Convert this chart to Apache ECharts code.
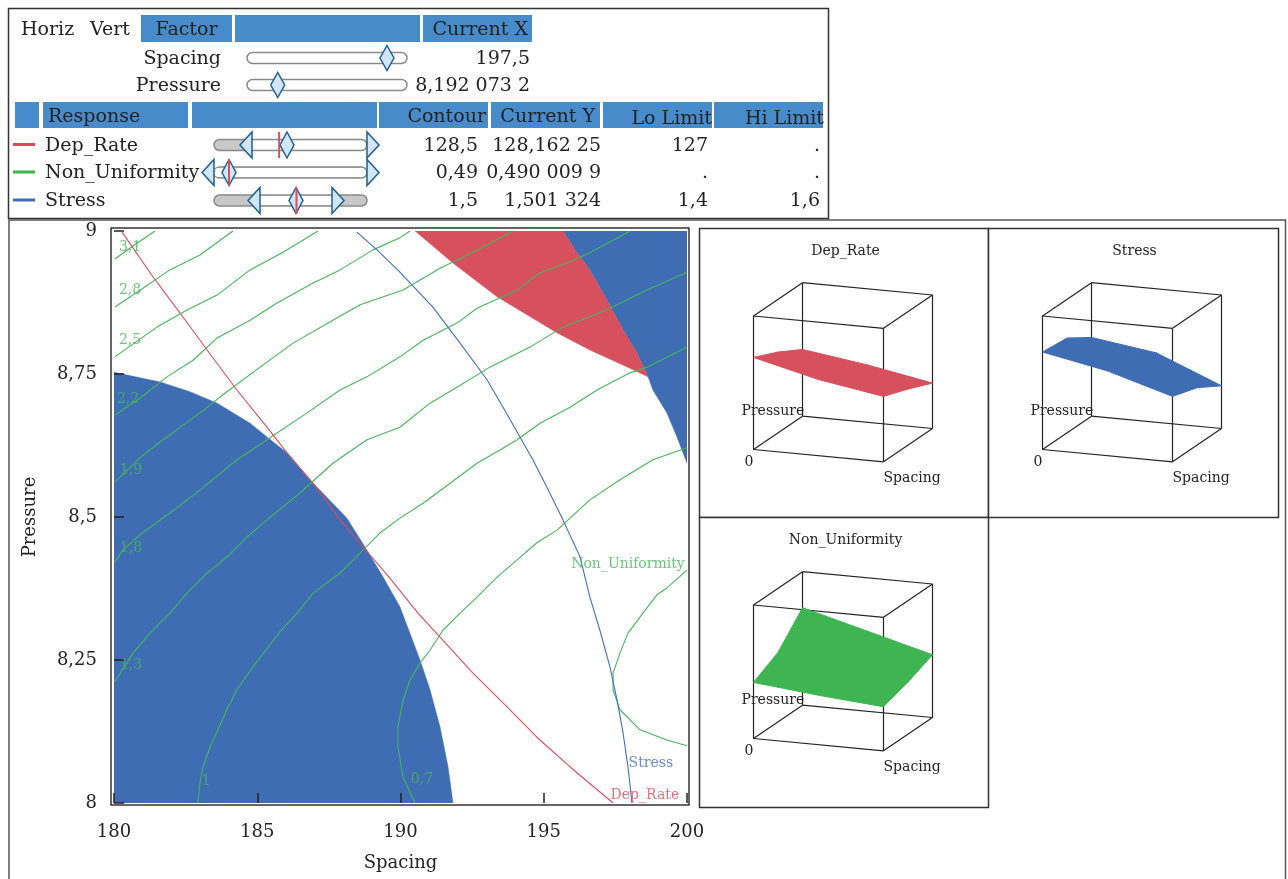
<!DOCTYPE html>
<html><head><meta charset="utf-8">
<script src="https://cdn.jsdelivr.net/npm/echarts@6.0.0/dist/echarts.min.js"></script>
<style>html,body{margin:0;padding:0;background:#fff}#chart{width:1288px;height:879px}</style>
</head><body><div id="chart"></div><script>
// ---------------- DATA ----------------
const factorNames = ['Spacing', 'Pressure'];
const factorCurrent = [197.5, 8.1920732];
const factorRange = [[180, 200], [8, 9]];

const responseNames = ['Dep_Rate', 'Non_Uniformity', 'Stress'];
const responseContour = [128.5, 0.49, 1.5];
const responseCurrentY = [128.16225, 0.4900099, 1.501324];
const responseLoLimit = [127, null, 1.4];
const responseHiLimit = [null, null, 1.6];
const responseSliderRange = [[125.371, 131.929], [0.44, 0.95], [1.2722, 1.6972]];

const xTickValues = [180, 185, 190, 195, 200];
const yTickValues = [8, 8.25, 8.5, 8.75, 9];

// shaded (out of limit) regions, [Spacing, Pressure]
const stressLowRegion = [[180,8],[180,8.753],[181.61,8.736],[182.65,8.719],[183.6,8.699],[184.75,8.664],[185.34,8.640],[186.04,8.612],[186.84,8.565],[188.13,8.498],[188.83,8.442],[189.39,8.395],[189.98,8.343],[190.68,8.250],[191.03,8.198],[191.38,8.133],[191.66,8.063],[191.83,8.0]];
const depRateLowRegion = [[190.51,9],[195.67,9],[196.16,8.962],[196.61,8.932],[197.21,8.879],[197.77,8.827],[198.25,8.787],[198.64,8.745],[198.01,8.760],[196.61,8.792],[195.46,8.822],[193.37,8.885],[191.83,8.944]];
const stressHighRegion = [[195.67,9],[200,9],[200,8.594],[199.65,8.64],[199.3,8.682],[198.81,8.722],[198.64,8.745],[198.25,8.787],[197.77,8.827],[197.21,8.879],[196.61,8.932],[196.16,8.962]];

// contour lines
const depRateContour = [[180.28,8.998],[181.36,8.920],[182.30,8.857],[183.25,8.792],[184.29,8.722],[185.34,8.657],[186.04,8.612],[186.95,8.559],[187.89,8.495],[188.69,8.448],[189.63,8.393],[190.61,8.332],[191.38,8.290],[192.53,8.227],[193.72,8.168],[194.76,8.115],[195.92,8.063],[197.42,8.0]];
const stressContour = [[188.48,8.998],[189.18,8.967],[189.98,8.928],[191.13,8.867],[192.08,8.804],[193.02,8.740],[193.58,8.692],[194.17,8.640],[194.62,8.600],[195.11,8.552],[195.67,8.495],[196.27,8.430],[196.61,8.360],[196.96,8.302],[197.31,8.238],[197.56,8.180],[197.77,8.122],[197.94,8.063],[198.08,8.0]];
const nuLine31 = [[180.03,8.951],[180.7,8.975],[181.43,9.0]];
const nuLine28 = [[180.03,8.867],[180.66,8.888],[181.95,8.932],[183.0,8.958],[184.15,9.0]];
const nuLine25 = [[180.03,8.780],[181.5,8.832],[182.55,8.862],[183.6,8.888],[184.75,8.932],[185.9,8.963],[187.12,9.0]];
const nuLine22 = [[180.03,8.678],[180.91,8.708],[181.85,8.745],[182.76,8.774],[183.6,8.813],[184.75,8.844],[185.69,8.874],[186.95,8.909],[187.89,8.932],[189.04,8.967],[189.98,8.988],[190.33,9.0]];
const nuLine19 = [[180.03,8.561],[181.01,8.608],[181.71,8.635],[183.0,8.682],[183.94,8.719],[185.1,8.762],[186.25,8.804],[187.64,8.844],[188.59,8.871],[190.09,8.897],[191.38,8.935],[192.53,8.963],[193.93,9.0]];
const nuLine18 = [[180.03,8.421],[180.31,8.442],[180.91,8.469],[181.95,8.507],[183.0,8.547],[184.29,8.600],[185.34,8.635],[186.74,8.682],[187.89,8.722],[188.83,8.745],[189.98,8.780],[190.79,8.809],[191.97,8.839],[192.67,8.865],[194.07,8.897],[194.87,8.927],[195.81,8.944],[196.61,8.962],[198.01,9.0]];
const nuLine13 = [[180.03,8.212],[180.66,8.262],[181.26,8.297],[181.95,8.332],[182.55,8.367],[183.25,8.402],[183.94,8.430],[184.64,8.465],[185.34,8.495],[186.49,8.542],[187.64,8.594],[188.83,8.635],[189.98,8.657],[191.03,8.699],[191.97,8.727],[193.12,8.762],[194.52,8.797],[195.67,8.832],[196.61,8.850],[197.31,8.865],[198.6,8.897],[200,8.928]];
const nuLine10 = [[182.93,8.0],[183.0,8.035],[183.11,8.063],[183.35,8.098],[183.94,8.163],[184.29,8.198],[184.85,8.238],[185.79,8.299],[186.39,8.332],[186.95,8.367],[187.89,8.402],[188.69,8.442],[189.28,8.472],[189.98,8.498],[190.79,8.524],[191.73,8.559],[192.67,8.594],[193.47,8.617],[194.07,8.635],[194.87,8.664],[195.92,8.692],[196.86,8.722],[198.01,8.752],[198.6,8.762],[200,8.797]];
const nuLine07 = [[190.51,8.0],[190.09,8.045],[189.91,8.098],[189.91,8.133],[190.09,8.180],[190.33,8.215],[190.68,8.245],[191.03,8.267],[191.48,8.302],[192.08,8.332],[192.67,8.360],[193.37,8.395],[194.07,8.425],[194.76,8.455],[195.46,8.477],[195.92,8.498],[196.61,8.530],[197.66,8.565],[198.81,8.600],[200,8.621]];
const nuLine049 = [[200,8.407],[199.3,8.376],[198.95,8.364],[198.46,8.332],[197.94,8.297],[197.66,8.262],[197.42,8.227],[197.42,8.198],[197.66,8.163],[198.36,8.128],[199.3,8.110],[200,8.100]];

const nuLabels = [['3,1',180.56,8.972],['2,8',180.56,8.897],['2,5',180.56,8.808],['2,2',180.49,8.705],['1,9',180.59,8.582],['1,8',180.59,8.446],['1,3',180.59,8.241],['1',183.21,8.038],['0,7',190.75,8.042],['Non_Uniformity',197.94,8.418]];
const depRateLabel = ['Dep_Rate', 198.53, 8.014];
const stressLabel = ['Stress', 198.74, 8.070];

// surface heights (fraction of cube height): rows Spacing low->high, cols Pressure low->high
const depRateSurface = [[0.69,0.605,0.50],[0.57,0.50,0.43],[0.49,0.42,0.34]];
const stressSurface = [[0.73,0.71,0.59],[0.635,0.60,0.52],[0.49,0.43,0.32]];
const nonUniformitySurface = [[0.42,0.52,0.73],[0.37,0.47,0.60],[0.33,0.39,0.47]];

// ---------------- STYLE ----------------
const FONT = '"DejaVu Serif", serif';
const BLUE_FILL = '#3F6DB4', RED_FILL = '#D6505E', GREEN_FILL = '#3EB552';
const GREEN_LINE = '#45B55A', RED_LINE = '#DC4B5A', BLUE_LINE = '#3E6FC2';
const HEAD = '#478BCA', TXT = '#222';

function fmt(v) {
  if (v == null) return '.';
  const s = String(v); const parts = s.split('.');
  if (!parts[1]) return parts[0];
  return parts[0] + ',' + parts[1].match(/.{1,3}/g).join(' ');
}

// ---------------- GRAPHIC (panels) ----------------
const G = [];
function rect(x, y, w, h, fill, stroke, lw, r) {
  G.push({type: 'rect', silent: true, shape: {x, y, width: w, height: h, r: r || 0},
    style: {fill: fill || 'none', stroke: stroke || 'none', lineWidth: lw || 0}});
}
function txt(x, y, t, size, align, color) {
  G.push({type: 'text', silent: true, x, y, style: {text: t, fontSize: size || 19, fontFamily: FONT,
    fill: color || TXT, align: align || 'left', verticalAlign: 'middle'}});
}
function poly(points, fill, stroke, lw) {
  G.push({type: 'polygon', silent: true, shape: {points}, style: {fill, stroke: stroke || 'none', lineWidth: lw || 0}});
}
function seg(x1, y1, x2, y2, stroke, lw) {
  G.push({type: 'line', silent: true, shape: {x1, y1, x2, y2}, style: {stroke, lineWidth: lw || 1}});
}

// outer frames
rect(8.5, 8.5, 820, 210, 'none', '#333', 1.5);
G.push({type: 'polyline', silent: true, shape: {points: [[9, 880], [9, 220], [1285.5, 220], [1285.5, 880]]}, style: {fill: 'none', stroke: '#555', lineWidth: 1.5}});

// header row 1
txt(21, 30, 'Horiz'); txt(90, 30, 'Vert');
rect(141, 15, 91, 27, HEAD); txt(186.5, 30, 'Factor', 19, 'center');
rect(235, 15, 185, 27, HEAD);
rect(423, 15, 109, 27, HEAD); txt(528, 30, 'Current X', 19, 'right');

// factor rows
const facY = [58, 85];
factorNames.forEach((n, i) => {
  const cy = facY[i];
  txt(221, cy + 1, n, 19, 'right');
  rect(247, cy - 5.5, 160, 11, '#fff', '#8a8a8a', 1.5, 5.5);
  const r = factorRange[i];
  const px = 247 + (factorCurrent[i] - r[0]) / (r[1] - r[0]) * 160;
  poly([[px, cy - 12.5], [px + 7, cy], [px, cy + 12.5], [px - 7, cy]], '#D3E6F6', '#1F5F94', 1.5);
  txt(530, cy + 1, fmt(factorCurrent[i]), 19, 'right');
});

// header row 2
rect(15, 102, 24, 26, HEAD);
rect(43, 102, 145, 26, HEAD); txt(48, 117, 'Response');
rect(192, 102, 185, 26, HEAD);
rect(379, 102, 109, 26, HEAD); txt(486, 117, 'Contour', 19, 'right');
rect(491, 102, 109, 26, HEAD); txt(595, 117, 'Current Y', 19, 'right');
rect(603, 102, 109, 26, HEAD); txt(712, 119, 'Lo Limit', 19, 'right');
rect(714, 102, 109, 26, HEAD); txt(824, 119, 'Hi Limit', 19, 'right');

// response rows
const resY = [145, 172.5, 200.5];
const legendColors = [RED_LINE, '#3DB54A', '#3F6DB4'];
const T0 = 214, TW = 153;
responseNames.forEach((n, i) => {
  const cy = resY[i];
  seg(13, cy - 0.5, 35, cy - 0.5, legendColors[i], 3);
  txt(45, cy + 1, n);
  const r = responseSliderRange[i];
  const toPx = v => T0 + (v - r[0]) / (r[1] - r[0]) * TW;
  const lo = responseLoLimit[i], hi = responseHiLimit[i];
  const loPx = lo == null ? T0 : toPx(lo);
  const hiPx = hi == null ? T0 + TW : toPx(hi);
  rect(T0, cy - 5.5, TW, 11, '#C8C8C8', '#8a8a8a', 1.5, 5.5);
  rect(loPx, cy - 4.5, hiPx - loPx - (hi == null ? 1 : 0), 9, '#fff', 'none', 0, hi == null && lo == null ? 4.5 : (hi == null ? [0, 4.5, 4.5, 0] : 0));
  poly([[loPx, cy - 13], [loPx, cy + 13], [loPx - 12, cy]], '#D3E6F6', '#1F5F94', 1.5);
  poly([[hiPx, cy - 13], [hiPx, cy + 13], [hiPx + 12, cy]], '#D3E6F6', '#1F5F94', 1.5);
  const dp = toPx(responseContour[i]);
  poly([[dp, cy - 13], [dp + 7, cy], [dp, cy + 13], [dp - 7, cy]], '#D3E6F6', '#1F5F94', 1.5);
  const yp = toPx(responseCurrentY[i]);
  seg(yp, cy - 13, yp, cy + 13, '#D9505C', 2);
  txt(478, cy + 1, fmt(responseContour[i]), 19, 'right');
  txt(601, cy + 1, fmt(responseCurrentY[i]), 19, 'right');
  txt(708, cy + 1, fmt(responseLoLimit[i]), 19, 'right');
  txt(820, cy + 1, fmt(responseHiLimit[i]), 19, 'right');
});

// 3D surface thumbnails
const panels = [
  {title: 'Dep_Rate', left: 699, top: 228, w: 289, h: 289, surf: depRateSurface, color: RED_FILL},
  {title: 'Stress', left: 988, top: 228, w: 290, h: 289, surf: stressSurface, color: BLUE_FILL},
  {title: 'Non_Uniformity', left: 699, top: 517, w: 289, h: 290, surf: nonUniformitySurface, color: GREEN_FILL}
];
const S = [130, 12.3], P = [49, -33.3], V = [0, -133.5];
panels.forEach(pn => {
  rect(pn.left + 0.5, pn.top + 0.5, pn.w, pn.h, '#fff', '#333', 1.5);
  const O = [pn.left + 54.5, pn.top + 221.5];
  const pt = (i, j, h) => [O[0] + i * S[0] + j * P[0] + h * V[0], O[1] + i * S[1] + j * P[1] + h * V[1]];
  const c = [pt(0,0,0), pt(1,0,0), pt(1,1,0), pt(0,1,0), pt(0,0,1), pt(1,0,1), pt(1,1,1), pt(0,1,1)];
  const edges = [[0,1],[1,2],[2,3],[3,0],[4,5],[5,6],[6,7],[7,4],[0,4],[1,5],[2,6],[3,7]];
  edges.forEach(e => seg(c[e[0]][0], c[e[0]][1], c[e[1]][0], c[e[1]][1], '#222', 1.2));
  const s = pn.surf, n = s.length - 1;
  for (let a = 0; a < n; a++) for (let b = 0; b < n; b++) {
    poly([pt(a / n, b / n, s[a][b]), pt((a + 1) / n, b / n, s[a + 1][b]), pt((a + 1) / n, (b + 1) / n, s[a + 1][b + 1]), pt(a / n, (b + 1) / n, s[a][b + 1])], pn.color, pn.color, 1);
  }
  txt(O[0] + 92, pn.top + 23, pn.title, 14, 'center');
  txt(O[0] - 12, O[1] - 38, 'Pressure', 14);
  txt(O[0] - 4.5, O[1] + 13, '0', 14, 'center');
  txt(O[0] + 130, O[1] + 28.5, 'Spacing', 14);
});
// main plot frame
G.push({type: 'rect', silent: true, z: 100, shape: {x: 111, y: 228, width: 578, height: 577}, style: {fill: 'none', stroke: '#333', lineWidth: 1.5}});

// ---------------- SERIES ----------------
function region(name, pts, color) {
  return {type: 'custom', name, data: pts, encode: {x: 0, y: 1}, silent: true, clip: true, z: 1,
    renderItem: (params, api) => {
      if (params.dataIndex !== 0) return null;
      return {type: 'polygon', shape: {points: pts.map(p => api.coord(p))}, style: {fill: color, stroke: color, lineWidth: 0.5}};
    }};
}
function cline(pts, color) {
  return {type: 'line', data: pts, showSymbol: false, symbol: 'none', silent: true, clip: true, z: 3,
    lineStyle: {color, width: 1.1}};
}
function labelSeries(items, color) {
  return {type: 'scatter', silent: true, z: 4, symbolSize: 1, itemStyle: {color: 'rgba(0,0,0,0)'},
    data: items.map(l => ({name: l[0], value: [l[1], l[2]]})),
    label: {show: true, position: 'inside', formatter: '{b}', color, fontFamily: FONT, fontSize: 14}};
}
const axisLabelFmt = v => String(v).replace('.', ',');
const option = {
  animation: false,
  backgroundColor: '#fff',
  grid: {left: 114, top: 231, width: 573, height: 572, show: false},
  xAxis: {type: 'value', min: xTickValues[0], max: xTickValues[xTickValues.length - 1], interval: xTickValues[1] - xTickValues[0],
    z: 10, axisLine: {show: false}, splitLine: {show: false},
    axisTick: {inside: true, length: 10, lineStyle: {color: '#222', width: 1.5}},
    axisLabel: {fontFamily: FONT, fontSize: 18, color: TXT, margin: 20, formatter: axisLabelFmt},
    name: 'Spacing', nameLocation: 'middle', nameGap: 51, nameTextStyle: {fontFamily: FONT, fontSize: 18, color: TXT}},
  yAxis: {type: 'value', min: yTickValues[0], max: yTickValues[yTickValues.length - 1], interval: yTickValues[1] - yTickValues[0],
    z: 10, axisLine: {show: false}, splitLine: {show: false},
    axisTick: {inside: true, length: 10, lineStyle: {color: '#222', width: 1.5}},
    axisLabel: {fontFamily: FONT, fontSize: 18, color: TXT, margin: 17, formatter: axisLabelFmt},
    name: 'Pressure', nameLocation: 'middle', nameGap: 75, nameRotate: 90, nameTextStyle: {fontFamily: FONT, fontSize: 18, color: TXT}},
  graphic: {elements: G},
  series: [
    region('Stress low', stressLowRegion, BLUE_FILL),
    region('Stress high', stressHighRegion, BLUE_FILL),
    region('Dep_Rate low', depRateLowRegion, RED_FILL),
    cline(nuLine31, GREEN_LINE), cline(nuLine28, GREEN_LINE), cline(nuLine25, GREEN_LINE), cline(nuLine22, GREEN_LINE),
    cline(nuLine19, GREEN_LINE), cline(nuLine18, GREEN_LINE), cline(nuLine13, GREEN_LINE), cline(nuLine10, GREEN_LINE),
    cline(nuLine07, GREEN_LINE), cline(nuLine049, GREEN_LINE),
    cline(depRateContour, RED_LINE),
    cline(stressContour, BLUE_LINE),
    labelSeries(nuLabels, GREEN_LINE),
    labelSeries([depRateLabel], RED_LINE),
    labelSeries([stressLabel], BLUE_LINE)
  ]
};
const chart = echarts.init(document.getElementById('chart'), null, {renderer: 'canvas'});
chart.setOption(option);
</script></body></html>
